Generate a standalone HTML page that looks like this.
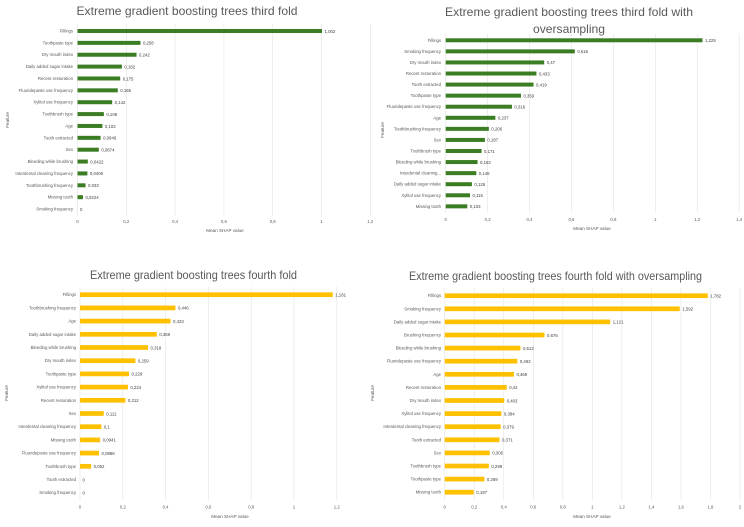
<!DOCTYPE html>
<html><head><meta charset="utf-8">
<style>
html,body{margin:0;padding:0;background:#fff;}
svg{display:block;font-family:"Liberation Sans",sans-serif;}
.lbl{font-size:4.3px;fill:#595959;}
.val{font-size:4.3px;fill:#404040;}
.tick{font-size:4.3px;fill:#595959;}
.ttl{font-size:12px;fill:#595959;font-family:"Liberation Sans Narrow","Liberation Sans",sans-serif;}
.ax{font-size:4.6px;fill:#595959;}
</style></head>
<body>
<svg id="c" width="744" height="527" viewBox="0 0 744 527"></svg>
<script>
// Chart 1: third fold
const c1Cats = ["Fillings","Toothpaste type","Dry mouth index","Daily added sugar intake","Recent restoration","Fluoridepaste use frequency","Xylitol use frequency","Toothbrush type","Age","Tooth extracted","Sex","Bleeding while brushing","Interdental cleaning frequency","Toothbrushing frequency","Missing tooth","Smoking frequency"];
const c1Vals = [1.002,0.258,0.242,0.182,0.175,0.165,0.142,0.108,0.102,0.0946,0.0874,0.0422,0.0406,0.033,0.0224,0];
const c1Labels = ["1,002","0,258","0,242","0,182","0,175","0,165","0,142","0,108","0,102","0,0946","0,0874","0,0422","0,0406","0,033","0,0224","0"];
const c1Ticks = [0,0.2,0.4,0.6,0.8,1,1.2];
const c1TickLabels = ["0","0,2","0,4","0,6","0,8","1","1,2"];
// Chart 2: third fold with oversampling
const c2Cats = ["Fillings","Smoking frequency","Dry mouth index","Recent restoration","Tooth extracted","Toothpaste type","Fluoridepaste use frequency","Age","Toothbrushing frequency","Sex","Toothbrush type","Bleeding while brushing","Interdental cleaning...","Daily added sugar intake","Xylitol use frequency","Missing tooth"];
const c2Vals = [1.225,0.616,0.47,0.433,0.419,0.359,0.316,0.237,0.206,0.187,0.171,0.152,0.146,0.125,0.116,0.103];
const c2Labels = ["1,225","0,616","0,47","0,433","0,419","0,359","0,316","0,237","0,206","0,187","0,171","0,152","0,146","0,125","0,116","0,103"];
const c2Ticks = [0,0.2,0.4,0.6,0.8,1,1.2,1.4];
const c2TickLabels = ["0","0,2","0,4","0,6","0,8","1","1,2","1,4"];
// Chart 3: fourth fold
const c3Cats = ["Fillings","Toothbrushing frequency","Age","Daily added sugar intake","Bleeding while brushing","Dry mouth index","Toothpaste type","Xylitol use frequency","Recent restoration","Sex","Interdental cleaning frequency","Missing tooth","Fluorideposte use frequency","Toothbrush type","Tooth extracted","Smoking frequency"];
const c3Vals = [1.181,0.446,0.423,0.359,0.318,0.259,0.229,0.224,0.212,0.111,0.1,0.0941,0.0888,0.052,0,0];
const c3Labels = ["1,181","0,446","0,423","0,359","0,318","0,259","0,229","0,224","0,212","0,111","0,1","0,0941","0,0888","0,052","0","0"];
const c3Ticks = [0,0.2,0.4,0.6,0.8,1,1.2];
const c3TickLabels = ["0","0,2","0,4","0,6","0,8","1","1,2"];
// Chart 4: fourth fold with oversampling
const c4Cats = ["Fillings","Smoking frequency","Daily added sugar intake","Brushing frequency","Bleeding while brushing","Fluoridepaste use frequency","Age","Recent restoration","Dry mouth index","Xylitol use frequency","Interdental cleaning frequency","Tooth extracted","Sex","Toothbrush type","Toothpaste type","Missing tooth"];
const c4Vals = [1.782,1.592,1.121,0.676,0.513,0.492,0.469,0.42,0.403,0.384,0.379,0.371,0.305,0.299,0.269,0.197];
const c4Labels = ["1,782","1,592","1,121","0,676","0,513","0,492","0,469","0,42","0,403","0,384","0,379","0,371","0,305","0,299","0,269","0,197"];
const c4Ticks = [0,0.2,0.4,0.6,0.8,1,1.2,1.4,1.6,1.8,2];
const c4TickLabels = ["0","0,2","0,4","0,6","0,8","1","1,2","1,4","1,6","1,8","2"];

const NS="http://www.w3.org/2000/svg";
const svg=document.getElementById('c');
function mk(tag,attrs,parent){const e=document.createElementNS(NS,tag);for(const k in attrs)e.setAttribute(k,attrs[k]);(parent||svg).appendChild(e);return e;}

function drawChart(id,cfg,cats,vals,labels,ticks,tickLabels){
  const g=mk('g',{});
  
  
  const xs=v=>cfg.x0+v*cfg.unit;
  const ys=i=>cfg.y0+i*cfg.step;
  ticks.forEach((t,i)=>{
    const l=mk('line',{x1:xs(t),x2:xs(t),y1:cfg.y0-cfg.step*0.6,y2:ys(cats.length-1)+cfg.step*0.6,stroke:'#e3e3e3','stroke-width':0.6},g);
    
    
    const tx=mk('text',{x:xs(t),y:cfg.tickY,'text-anchor':'middle',class:'tick'},g);
    tx.textContent=tickLabels[i];
    
    
  });
  cats.forEach((c,i)=>{
    const y=ys(i);
    const lb=mk('text',{x:cfg.labelRight,y:y+1.5,'text-anchor':'end',class:'lbl'},g);
    lb.textContent=c;
    
    
    const w=Math.max(0,xs(vals[i])-cfg.x0);
    const r=mk('rect',{x:cfg.x0,y:y-cfg.bh/2,width:w,height:cfg.bh,fill:cfg.color},g);
    
    
    const v=mk('text',{x:xs(vals[i])+2.5,y:y+1.8,class:'val'},g);
    v.textContent=labels[i];
    
    
  });
  cfg.titles.forEach(t=>{
    const tt=mk('text',{x:t[1],y:t[2],'text-anchor':'middle',class:'ttl',textLength:t[3],lengthAdjust:'spacingAndGlyphs'},g);
    tt.textContent=t[0];
    
    
  });
  const ax=mk('text',{x:cfg.axX,y:cfg.axY,'text-anchor':'middle',class:'ax'},g);
  ax.textContent='Mean SHAP value';
  
  
  const fy=mk('text',{x:0,y:0,'text-anchor':'middle',class:'ax',transform:`translate(${cfg.fX},${cfg.fY}) rotate(-90)`},g);
  fy.textContent='Feature';
  
  
}

const green='#3b7d23', yellow='#ffc000';
drawChart('chart-third-fold',{x0:77.5,unit:244,y0:31,step:11.87,bh:4,color:green,labelRight:73,tickY:223,axX:225,axY:232,fX:9,fY:120,
  titles:[["Extreme gradient boosting trees third fold",187,15,221]]},c1Cats,c1Vals,c1Labels,c1Ticks,c1TickLabels);
drawChart('chart-third-fold-oversampling',{x0:445.7,unit:209.6,y0:40.3,step:11.07,bh:4,color:green,labelRight:441,tickY:221,axX:592,axY:230,fX:384,fY:130,
  titles:[["Extreme gradient boosting trees third fold with",569,16,248],["oversampling",569,33,72]]},c2Cats,c2Vals,c2Labels,c2Ticks,c2TickLabels);
drawChart('chart-fourth-fold',{x0:80,unit:214,y0:294.7,step:13.2,bh:4.7,color:yellow,labelRight:76,tickY:508.5,axX:230,axY:518,fX:8,fY:393,
  titles:[["Extreme gradient boosting trees fourth fold",193.5,279,207]]},c3Cats,c3Vals,c3Labels,c3Ticks,c3TickLabels);
drawChart('chart-fourth-fold-oversampling',{x0:444.7,unit:147.65,y0:295.7,step:13.1,bh:4.7,color:yellow,labelRight:441,tickY:508.5,axX:592,axY:518,fX:374,fY:393,
  titles:[["Extreme gradient boosting trees fourth fold with oversampling",555.5,280,293]]},c4Cats,c4Vals,c4Labels,c4Ticks,c4TickLabels);
</script>
</body></html>
